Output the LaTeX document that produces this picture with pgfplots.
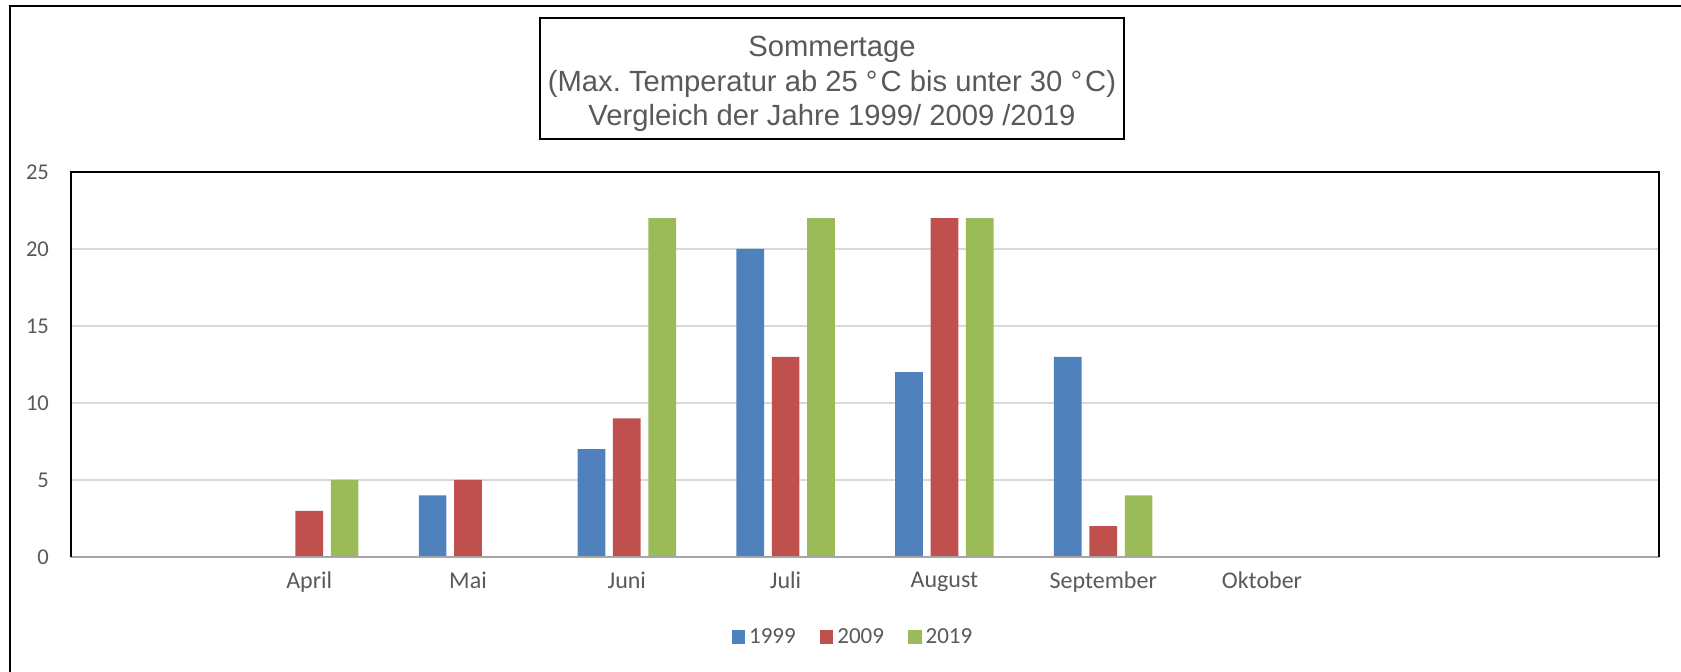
\documentclass[border=0pt]{standalone}
\usepackage{fontspec}
\setmainfont{Carlito}
\newfontfamily\titlefont{Liberation Sans}
\usepackage{pgfplots}
\pgfplotsset{compat=1.18}
\definecolor{cBlue}{HTML}{4F81BD}
\definecolor{cRed}{HTML}{C0504D}
\definecolor{cGreen}{HTML}{9BBB59}
\definecolor{txt}{HTML}{595959}
\definecolor{gridc}{HTML}{D9D9D9}
\definecolor{axc}{HTML}{A6A6A6}
\frenchspacing
\begin{document}
\begin{tikzpicture}
\useasboundingbox (0,0) rectangle (840.5pt,336pt);
\begin{scope}
\clip (0,0) rectangle (840.5pt,336pt);
\draw[line width=1.1pt] (5pt,-5pt) -- (5pt,333pt) -- (845pt,333pt);
\end{scope}
\draw[line width=0.8pt] (270pt,266.5pt) rectangle (562pt,327pt);
\node[font=\titlefont\fontsize{14.6}{17.2}\selectfont, text=txt, align=center] at (416pt,294pt)
 {Sommertage\\(Max. Temperatur ab 25 °\kern1.5pt C bis unter 30 °\kern1.5pt C)\\Vergleich der Jahre 1999/ 2009 /2019};
\begin{axis}[
  at={(35.5pt,57.5pt)}, anchor=south west,
  scale only axis, width=794pt, height=192.5pt,
  xmin=-0.5, xmax=9.5, ymin=0, ymax=25,
  ybar=3.85pt, bar width=13.85pt,
  xtick={1,2,3,4,5,6,7},
  xticklabels={April,Mai,Juni,Juli,August,September,Oktober},
  ytick={0,5,10,15,20,25},
  major tick length=0pt,
  axis line style={draw=none},
  ymajorgrids, major grid style={color=gridc, line width=0.75pt},
  xticklabel style={font=\fontsize{12}{14}\selectfont, text=txt, yshift=-4pt},
  yticklabel style={font=\fontsize{11.3}{13}\selectfont, text=txt, xshift=-7.5pt},
  /pgf/number format/assume math mode=true,
  clip=false,
  legend columns=3,
  legend style={at={(rel axis cs:0.493,-0.208)}, anchor=center, draw=none,
    font=\fontsize{11.5}{13}\selectfont, text=txt,
    /tikz/every even column/.append style={column sep=10pt},
    inner sep=0pt},
]
\addplot[draw=none, fill=cBlue, legend image code/.code={\fill[cBlue] (0pt,-3.4pt) rectangle (6.8pt,3.4pt);}]
  coordinates {(2,4) (3,7) (4,20) (5,12) (6,13)};
\addplot[draw=none, fill=cRed, legend image code/.code={\fill[cRed] (0pt,-3.4pt) rectangle (6.8pt,3.4pt);}]
  coordinates {(1,3) (2,5) (3,9) (4,13) (5,22) (6,2)};
\addplot[draw=none, fill=cGreen, legend image code/.code={\fill[cGreen] (0pt,-3.4pt) rectangle (6.8pt,3.4pt);}]
  coordinates {(1,5) (3,22) (4,22) (5,22) (6,4)};
\legend{1999,2009,2019}
\draw[axc, line width=1pt] (rel axis cs:0,0) -- (rel axis cs:1,0);
\draw[black, line width=0.9pt] (rel axis cs:0,0) -- (rel axis cs:0,1) -- (rel axis cs:1,1) -- (rel axis cs:1,0);
\end{axis}
\end{tikzpicture}
\end{document}
